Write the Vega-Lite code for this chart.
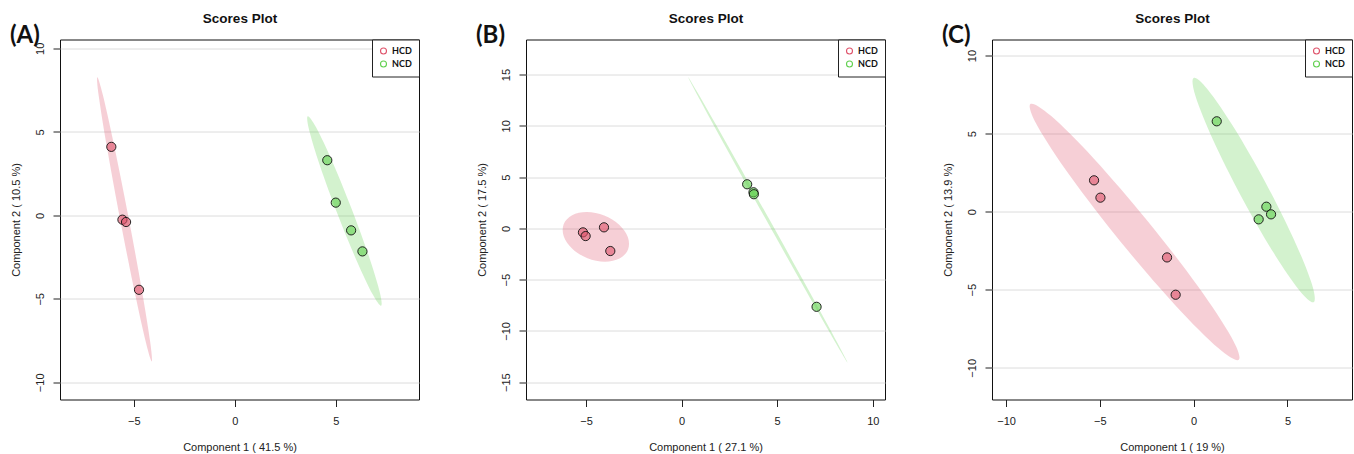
{
  "$schema": "https://vega.github.io/schema/vega-lite/v6.json",
  "background": "white",
  "padding": {"left": 9, "top": 10.5, "right": 0, "bottom": 0},
  "config": {
    "view": {"stroke": "#111", "strokeWidth": 1},
    "axis": {"gridColor": "#DCDCDC", "gridWidth": 1, "tickColor": "#222", "tickSize": 7, "tickWidth": 1, "domain": false,
      "labelFont": "Liberation Sans", "labelFontSize": 11, "labelColor": "#222", "labelFlush": false,
      "titleFont": "Liberation Sans", "titleFontSize": 11, "titleFontWeight": "normal", "titleColor": "#222"},
    "axisX": {"labelPadding": 8.5, "titlePadding": 15.5},
    "axisY": {"labelAngle": 270, "labelAlign": "center", "labelBaseline": "middle", "labelPadding": 13, "titlePadding": 13},
    "title": {"font": "Lato", "fontSize": 24, "fontWeight": "bold", "color": "#111", "anchor": "start", "frame": "bounds"},
    "legend": {"orient": "top-right", "offset": 0, "padding": 7, "strokeColor": "#222", "fillColor": "white", "cornerRadius": 0,
      "symbolSize": 36, "symbolStrokeWidth": 1.1, "symbolFillColor": "transparent",
      "labelFont": "Lato", "labelFontWeight": "bold", "labelFontSize": 9, "labelColor": "#111", "rowPadding": 2, "labelOffset": 4}
  },
  "datasets": {
    "ptsA": [
      {"group": "HCD", "x": -6.11, "y": 4.10}, {"group": "HCD", "x": -5.56, "y": -0.26}, {"group": "HCD", "x": -5.38, "y": -0.40}, {"group": "HCD", "x": -4.74, "y": -4.46},
      {"group": "NCD", "x": 4.58, "y": 3.30}, {"group": "NCD", "x": 5.00, "y": 0.76}, {"group": "NCD", "x": 5.76, "y": -0.90}, {"group": "NCD", "x": 6.32, "y": -2.16}
    ],
    "ptsB": [
      {"group": "HCD", "x": -5.16, "y": -0.39}, {"group": "HCD", "x": -5.02, "y": -0.75}, {"group": "HCD", "x": -4.06, "y": 0.10}, {"group": "HCD", "x": -3.73, "y": -2.21},
      {"group": "NCD", "x": 3.43, "y": 4.30}, {"group": "NCD", "x": 3.76, "y": 3.52}, {"group": "NCD", "x": 3.78, "y": 3.33}, {"group": "NCD", "x": 7.06, "y": -7.65}
    ],
    "ptsC": [
      {"group": "HCD", "x": -5.31, "y": 2.01}, {"group": "HCD", "x": -4.97, "y": 0.90}, {"group": "HCD", "x": -1.42, "y": -2.93}, {"group": "HCD", "x": -0.96, "y": -5.32},
      {"group": "NCD", "x": 1.23, "y": 5.79}, {"group": "NCD", "x": 3.875, "y": 0.32}, {"group": "NCD", "x": 4.125, "y": -0.17}, {"group": "NCD", "x": 3.465, "y": -0.49}
    ],
    "ellA": [
      {"group": "HCD", "i": 0, "x": -6.803, "y": 8.273}, {"group": "HCD", "i": 1, "x": -6.518, "y": 7.157}, {"group": "HCD", "i": 2, "x": -5.949, "y": 4.059},
      {"group": "HCD", "i": 3, "x": -5.247, "y": -0.191}, {"group": "HCD", "i": 4, "x": -4.602, "y": -4.454}, {"group": "HCD", "i": 5, "x": -4.185, "y": -7.588},
      {"group": "HCD", "i": 6, "x": -4.109, "y": -8.753}, {"group": "HCD", "i": 7, "x": -4.394, "y": -7.637}, {"group": "HCD", "i": 8, "x": -4.964, "y": -4.539},
      {"group": "HCD", "i": 9, "x": -5.665, "y": -0.289}, {"group": "HCD", "i": 10, "x": -6.311, "y": 3.974}, {"group": "HCD", "i": 11, "x": -6.727, "y": 7.108},
      {"group": "NCD", "i": 0, "x": 3.614, "y": 5.935}, {"group": "NCD", "i": 1, "x": 4.030, "y": 5.256}, {"group": "NCD", "i": 2, "x": 4.821, "y": 3.238},
      {"group": "NCD", "i": 3, "x": 5.774, "y": 0.423}, {"group": "NCD", "i": 4, "x": 6.635, "y": -2.436}, {"group": "NCD", "i": 5, "x": 7.172, "y": -4.572},
      {"group": "NCD", "i": 6, "x": 7.242, "y": -5.413}, {"group": "NCD", "i": 7, "x": 6.826, "y": -4.734}, {"group": "NCD", "i": 8, "x": 6.035, "y": -2.716},
      {"group": "NCD", "i": 9, "x": 5.082, "y": 0.099}, {"group": "NCD", "i": 10, "x": 4.221, "y": 2.958}, {"group": "NCD", "i": 11, "x": 3.684, "y": 5.094}
    ],
    "ellB": [
      {"group": "HCD", "i": 0, "x": -2.803, "y": -2.060}, {"group": "HCD", "i": 1, "x": -3.247, "y": -2.935}, {"group": "HCD", "i": 2, "x": -4.023, "y": -3.246},
      {"group": "HCD", "i": 3, "x": -4.923, "y": -2.910}, {"group": "HCD", "i": 4, "x": -5.706, "y": -2.016}, {"group": "HCD", "i": 5, "x": -6.162, "y": -0.805},
      {"group": "HCD", "i": 6, "x": -6.169, "y": 0.400}, {"group": "HCD", "i": 7, "x": -5.725, "y": 1.275}, {"group": "HCD", "i": 8, "x": -4.950, "y": 1.586},
      {"group": "HCD", "i": 9, "x": -4.049, "y": 1.250}, {"group": "HCD", "i": 10, "x": -3.267, "y": 0.356}, {"group": "HCD", "i": 11, "x": -2.810, "y": -0.855},
      {"group": "NCD", "i": 0, "x": 0.346, "y": 14.742}, {"group": "NCD", "i": 1, "x": 0.938, "y": 12.914}, {"group": "NCD", "i": 2, "x": 2.488, "y": 7.848},
      {"group": "NCD", "i": 3, "x": 4.580, "y": 0.902}, {"group": "NCD", "i": 4, "x": 6.654, "y": -6.064}, {"group": "NCD", "i": 5, "x": 8.154, "y": -11.182},
      {"group": "NCD", "i": 6, "x": 8.678, "y": -13.082}, {"group": "NCD", "i": 7, "x": 8.086, "y": -11.254}, {"group": "NCD", "i": 8, "x": 6.536, "y": -6.188},
      {"group": "NCD", "i": 9, "x": 4.444, "y": 0.758}, {"group": "NCD", "i": 10, "x": 2.370, "y": 7.724}, {"group": "NCD", "i": 11, "x": 0.870, "y": 12.842}
    ],
    "ellC": [
      {"group": "HCD", "i": 0, "x": -8.704, "y": 6.897}, {"group": "HCD", "i": 1, "x": -7.608, "y": 6.144}, {"group": "HCD", "i": 2, "x": -5.318, "y": 3.398},
      {"group": "HCD", "i": 3, "x": -2.447, "y": -0.606}, {"group": "HCD", "i": 4, "x": 0.236, "y": -4.794}, {"group": "HCD", "i": 5, "x": 2.012, "y": -8.045},
      {"group": "HCD", "i": 6, "x": 2.404, "y": -9.487}, {"group": "HCD", "i": 7, "x": 1.309, "y": -8.734}, {"group": "HCD", "i": 8, "x": -0.982, "y": -5.988},
      {"group": "HCD", "i": 9, "x": -3.853, "y": -1.984}, {"group": "HCD", "i": 10, "x": -6.536, "y": 2.204}, {"group": "HCD", "i": 11, "x": -8.312, "y": 5.455},
      {"group": "NCD", "i": 0, "x": 0.000, "y": 8.564}, {"group": "NCD", "i": 1, "x": 0.757, "y": 7.814}, {"group": "NCD", "i": 2, "x": 2.168, "y": 5.342},
      {"group": "NCD", "i": 3, "x": 3.855, "y": 1.809}, {"group": "NCD", "i": 4, "x": 5.366, "y": -1.838}, {"group": "NCD", "i": 5, "x": 6.297, "y": -4.620},
      {"group": "NCD", "i": 6, "x": 6.396, "y": -5.794}, {"group": "NCD", "i": 7, "x": 5.640, "y": -5.044}, {"group": "NCD", "i": 8, "x": 4.228, "y": -2.572},
      {"group": "NCD", "i": 9, "x": 2.541, "y": 0.961}, {"group": "NCD", "i": 10, "x": 1.030, "y": 4.608}, {"group": "NCD", "i": 11, "x": 0.100, "y": 7.390}
    ]
  },
  "spacing": 55,
  "resolve": {"scale": {"fill": "independent", "stroke": "independent"}},
  "hconcat": [
    {
      "title": {"text": "(A)", "dy": 40},
      "width": 359, "height": 360,
      "resolve": {"axis": {"x": "independent"}},
      "layer": [
        {
          "data": {"name": "ellA"},
          "mark": {"type": "line", "interpolate": "cardinal-closed", "strokeOpacity": 0, "fillOpacity": 0.28},
          "encoding": {
            "x": {"field": "x", "type": "quantitative", "scale": {"domain": [-8.65, 9.12], "zero": false, "nice": false},
              "axis": {"orient": "top", "title": "Scores Plot", "labels": false, "ticks": false, "grid": false, "titlePadding": 14, "titleFontWeight": "bold", "titleFontSize": 13.5, "titleColor": "#111"}},
            "y": {"field": "y", "type": "quantitative", "scale": {"domain": [-11.03, 10.53], "zero": false, "nice": false},
              "axis": {"values": [-10, -5, 0, 5, 10], "title": "Component 2 ( 10.5 %)"}},
            "order": {"field": "i", "type": "quantitative"},
            "fill": {"field": "group", "type": "nominal", "scale": {"domain": ["NCD", "HCD"], "range": ["#61D04F", "#DF536B"]}, "legend": null},
            "stroke": {"field": "group", "type": "nominal", "scale": {"domain": ["HCD", "NCD"], "range": ["#DF536B", "#61D04F"]},
              "legend": {"title": null, "symbolType": "circle", "encode": {"symbols": {"update": {"strokeOpacity": {"value": 1}, "strokeWidth": {"value": 1.1}, "fill": {"value": "transparent"}, "opacity": {"value": 1}}}}}}
          }
        },
        {
          "data": {"name": "ptsA"},
          "mark": {"type": "point", "filled": true, "shape": "circle", "size": 85, "stroke": "#111", "strokeWidth": 0.9, "fillOpacity": 0.6},
          "encoding": {
            "x": {"field": "x", "type": "quantitative", "scale": {"domain": [-8.65, 9.12], "zero": false, "nice": false},
              "axis": {"values": [-5, 0, 5], "title": "Component 1 ( 41.5 %)"}},
            "y": {"field": "y", "type": "quantitative", "scale": {"domain": [-11.03, 10.53], "zero": false, "nice": false},
              "axis": {"values": [-10, -5, 0, 5, 10], "title": "Component 2 ( 10.5 %)"}},
            "fill": {"field": "group", "type": "nominal", "scale": {"domain": ["NCD", "HCD"], "range": ["#61D04F", "#DF536B"]}, "legend": null}
          }
        }
      ]
    },
    {
      "title": {"text": "(B)", "dy": 40},
      "width": 359, "height": 360,
      "resolve": {"axis": {"x": "independent"}},
      "layer": [
        {
          "data": {"name": "ellB"},
          "mark": {"type": "line", "interpolate": "cardinal-closed", "strokeOpacity": 0, "fillOpacity": 0.28},
          "encoding": {
            "x": {"field": "x", "type": "quantitative", "scale": {"domain": [-8.14, 10.64], "zero": false, "nice": false},
              "axis": {"orient": "top", "title": "Scores Plot", "labels": false, "ticks": false, "grid": false, "titlePadding": 14, "titleFontWeight": "bold", "titleFontSize": 13.5, "titleColor": "#111"}},
            "y": {"field": "y", "type": "quantitative", "scale": {"domain": [-16.69, 18.42], "zero": false, "nice": false},
              "axis": {"values": [-15, -10, -5, 0, 5, 10, 15], "title": "Component 2 ( 17.5 %)"}},
            "order": {"field": "i", "type": "quantitative"},
            "fill": {"field": "group", "type": "nominal", "scale": {"domain": ["NCD", "HCD"], "range": ["#61D04F", "#DF536B"]}, "legend": null},
            "stroke": {"field": "group", "type": "nominal", "scale": {"domain": ["HCD", "NCD"], "range": ["#DF536B", "#61D04F"]},
              "legend": {"title": null, "symbolType": "circle", "encode": {"symbols": {"update": {"strokeOpacity": {"value": 1}, "strokeWidth": {"value": 1.1}, "fill": {"value": "transparent"}, "opacity": {"value": 1}}}}}}
          }
        },
        {
          "data": {"name": "ptsB"},
          "mark": {"type": "point", "filled": true, "shape": "circle", "size": 85, "stroke": "#111", "strokeWidth": 0.9, "fillOpacity": 0.6},
          "encoding": {
            "x": {"field": "x", "type": "quantitative", "scale": {"domain": [-8.14, 10.64], "zero": false, "nice": false},
              "axis": {"values": [-5, 0, 5, 10], "title": "Component 1 ( 27.1 %)"}},
            "y": {"field": "y", "type": "quantitative", "scale": {"domain": [-16.69, 18.42], "zero": false, "nice": false},
              "axis": {"values": [-15, -10, -5, 0, 5, 10, 15], "title": "Component 2 ( 17.5 %)"}},
            "fill": {"field": "group", "type": "nominal", "scale": {"domain": ["NCD", "HCD"], "range": ["#61D04F", "#DF536B"]}, "legend": null}
          }
        }
      ]
    },
    {
      "title": {"text": "(C)", "dy": 40},
      "width": 360, "height": 360,
      "resolve": {"axis": {"x": "independent"}},
      "layer": [
        {
          "data": {"name": "ellC"},
          "mark": {"type": "line", "interpolate": "cardinal-closed", "strokeOpacity": 0, "fillOpacity": 0.28},
          "encoding": {
            "x": {"field": "x", "type": "quantitative", "scale": {"domain": [-10.75, 8.44], "zero": false, "nice": false},
              "axis": {"orient": "top", "title": "Scores Plot", "labels": false, "ticks": false, "grid": false, "titlePadding": 14, "titleFontWeight": "bold", "titleFontSize": 13.5, "titleColor": "#111"}},
            "y": {"field": "y", "type": "quantitative", "scale": {"domain": [-12.03, 11.03], "zero": false, "nice": false},
              "axis": {"values": [-10, -5, 0, 5, 10], "title": "Component 2 ( 13.9 %)"}},
            "order": {"field": "i", "type": "quantitative"},
            "fill": {"field": "group", "type": "nominal", "scale": {"domain": ["NCD", "HCD"], "range": ["#61D04F", "#DF536B"]}, "legend": null},
            "stroke": {"field": "group", "type": "nominal", "scale": {"domain": ["HCD", "NCD"], "range": ["#DF536B", "#61D04F"]},
              "legend": {"title": null, "symbolType": "circle", "encode": {"symbols": {"update": {"strokeOpacity": {"value": 1}, "strokeWidth": {"value": 1.1}, "fill": {"value": "transparent"}, "opacity": {"value": 1}}}}}}
          }
        },
        {
          "data": {"name": "ptsC"},
          "mark": {"type": "point", "filled": true, "shape": "circle", "size": 85, "stroke": "#111", "strokeWidth": 0.9, "fillOpacity": 0.6},
          "encoding": {
            "x": {"field": "x", "type": "quantitative", "scale": {"domain": [-10.75, 8.44], "zero": false, "nice": false},
              "axis": {"values": [-10, -5, 0, 5], "title": "Component 1 ( 19 %)"}},
            "y": {"field": "y", "type": "quantitative", "scale": {"domain": [-12.03, 11.03], "zero": false, "nice": false},
              "axis": {"values": [-10, -5, 0, 5, 10], "title": "Component 2 ( 13.9 %)"}},
            "fill": {"field": "group", "type": "nominal", "scale": {"domain": ["NCD", "HCD"], "range": ["#61D04F", "#DF536B"]}, "legend": null}
          }
        }
      ]
    }
  ]
}
